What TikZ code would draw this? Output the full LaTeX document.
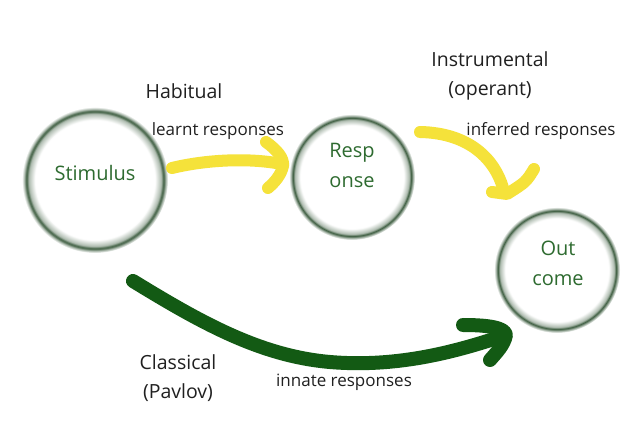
\documentclass[tikz,border=0pt]{standalone}
\usepackage{fontspec}
\setmainfont{Open Sans}
\definecolor{ringg}{HTML}{3C5C3F}
\definecolor{txtg}{HTML}{2E6B30}
\definecolor{arrg}{HTML}{135A14}
\definecolor{yel}{HTML}{F5E23A}
\definecolor{lbl}{HTML}{202020}
\pgfdeclareradialshading{ringglow}{\pgfpointorigin}{color(0bp)=(white); color(20.5bp)=(white); color(22.6bp)=(ringg!40); color(23.5bp)=(ringg); color(24.3bp)=(ringg!40); color(25bp)=(white); color(50bp)=(white)}
\begin{document}
\begin{tikzpicture}[x=1pt,y=-1pt,
  ring/.style={circle, shading=ringglow, inner sep=0pt, draw=none},
  intext/.style={text=txtg, align=center, font=\fontsize{20}{30}\selectfont},
  lab/.style={text=lbl, align=center, font=\fontsize{19.5}{28.5}\selectfont},
  small/.style={text=lbl, font=\fontsize{17}{20}\selectfont},
  yarrow/.style={draw=yel, line width=12pt, line cap=round, line join=round},
  garrow/.style={draw=arrg, line width=14pt, line cap=round, line join=round}]
\fill[white] (0,0) rectangle (640,427);
\useasboundingbox (0,0) rectangle (640,427);
% circles
\node[ring, minimum size=146pt] (stim) at (95,180) {};
\node[ring, minimum size=126pt] (resp) at (352,177) {};
\node[ring, minimum size=126pt] (out) at (557,270) {};
\node[intext] (stimt) at (95,173) {Stimulus};
\node[intext] (respt) at (352,165) {Resp\\onse};
\node[intext] (outt) at (558,263) {Out\\come};
% labels
\node[lab] (hab) at (184,91) {Habitual};
\node[lab] (instr) at (490,76) {Instrumental\\(operant)};
\node[lab] (class) at (178,378) {Classical\\(Pavlov)};
\node[small] (learnt) at (218,131) {learnt responses};
\node[small] (inferred) at (541,131) {inferred responses};
\node[small] (innate) at (344,382) {innate responses};
% coordinates for freehand arrows
\coordinate (y1s) at (172,168);
\coordinate (y1e) at (276,163);
\coordinate (y1a) at (266,142);
\coordinate (y1t) at (283,166);
\coordinate (y1b) at (268,188);
\coordinate (y2s) at (420,132);
\coordinate (y2e) at (503,188);
\coordinate (y2a) at (534,169);
\coordinate (y2t) at (507,194);
\coordinate (y2b) at (492,192);
\coordinate (g1s) at (133,281);
\coordinate (g1m) at (330,362);
\coordinate (g1e) at (500,337);
\coordinate (g1a) at (463,325);
\coordinate (g1t) at (506,335);
\coordinate (g1b) at (490,360);
% yellow arrow 1
\draw[yarrow] (y1s) .. controls (205,160) and (245,158) .. (y1e);
\draw[yarrow] (y1a) .. controls (277,150) and (284,158) .. (y1t) .. controls (281,175) and (275,182) .. (y1b);
% yellow arrow 2
\draw[yarrow] (y2s) .. controls (470,133) and (495,160) .. (y2e);
\draw[yarrow] (y2a) .. controls (526,182) .. (y2t) -- (y2b);
% green arrow
\draw[garrow] (g1s) .. controls (200,322) and (260,356) .. (g1m) .. controls (400,368) and (460,350) .. (g1e);
\draw[garrow] (g1a) .. controls (490,325) and (505,328) .. (g1t) .. controls (504,345) and (497,352) .. (g1b);
\end{tikzpicture}
\end{document}
